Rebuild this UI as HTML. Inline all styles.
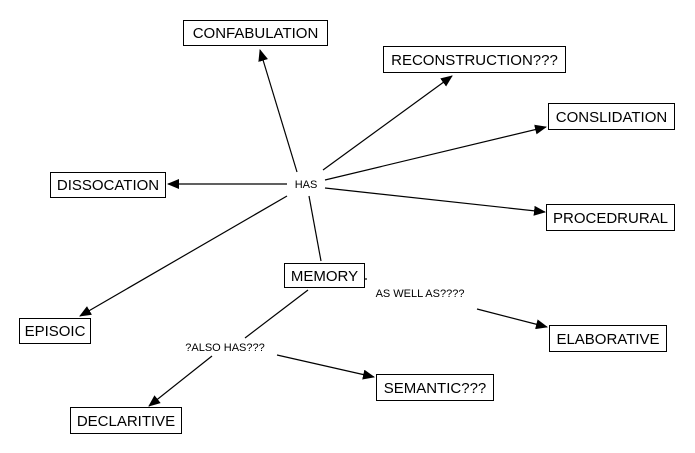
<!DOCTYPE html>
<html><head><style>
html,body{margin:0;padding:0;background:#fff;}
svg{display:block;}
text{font-family:"Liberation Sans",sans-serif;fill:#000;}
.b{fill:#fff;stroke:#000;stroke-width:1;}
.l{stroke:#000;stroke-width:1.2;fill:none;}
</style></head><body>
<svg width="695" height="453" viewBox="0 0 695 453" xmlns="http://www.w3.org/2000/svg">
<defs><marker id="a" markerWidth="12" markerHeight="10" refX="11" refY="5" orient="auto" markerUnits="userSpaceOnUse"><path d="M0,0 L12,5 L0,10 z" fill="#000"/></marker></defs>
<g class="l">
<line x1="297" y1="172" x2="260" y2="50" marker-end="url(#a)"/>
<line x1="323" y1="170" x2="452" y2="76" marker-end="url(#a)"/>
<line x1="325" y1="180" x2="546" y2="127" marker-end="url(#a)"/>
<line x1="287" y1="184" x2="168" y2="184" marker-end="url(#a)"/>
<line x1="325" y1="188" x2="545" y2="212" marker-end="url(#a)"/>
<line x1="287" y1="196" x2="80" y2="316" marker-end="url(#a)"/>
<line x1="309" y1="196" x2="321" y2="261"/>
<polyline points="364,279 367,279"/>
<line x1="477" y1="309" x2="547" y2="327" marker-end="url(#a)"/>
<line x1="308" y1="290" x2="245" y2="338"/>
<line x1="212" y1="356" x2="149" y2="406" marker-end="url(#a)"/>
<line x1="277" y1="355" x2="374" y2="377" marker-end="url(#a)"/>
</g>
<g font-size="15">
<rect class="b" x="183.5" y="20.5" width="144" height="25"/><text x="255.5" y="38" text-anchor="middle">CONFABULATION</text>
<rect class="b" x="383.5" y="46.5" width="182" height="26"/><text x="474.5" y="65" text-anchor="middle">RECONSTRUCTION???</text>
<rect class="b" x="548.5" y="103.5" width="126" height="26"/><text x="611.5" y="122" text-anchor="middle">CONSLIDATION</text>
<rect class="b" x="50.5" y="172.5" width="115" height="25"/><text x="108" y="190" text-anchor="middle">DISSOCATION</text>
<rect class="b" x="546.5" y="204.5" width="128" height="26"/><text x="610.5" y="223" text-anchor="middle">PROCEDRURAL</text>
<rect class="b" x="284.5" y="263.5" width="80" height="24"/><text x="324.5" y="281" text-anchor="middle">MEMORY</text>
<rect class="b" x="19.5" y="318.5" width="71" height="25"/><text x="55" y="336" text-anchor="middle">EPISOIC</text>
<rect class="b" x="549.5" y="325.5" width="117" height="26"/><text x="608" y="344" text-anchor="middle">ELABORATIVE</text>
<rect class="b" x="376.5" y="374.5" width="117" height="26"/><text x="435" y="393" text-anchor="middle">SEMANTIC???</text>
<rect class="b" x="70.5" y="407.5" width="111" height="26"/><text x="126" y="426" text-anchor="middle">DECLARITIVE</text>
</g>
<g font-size="11">
<text x="306" y="188" text-anchor="middle">HAS</text>
<text x="420" y="297" text-anchor="middle">AS  WELL AS????</text>
<text x="225" y="351" text-anchor="middle">?ALSO HAS???</text>
</g>
</svg>
</body></html>
